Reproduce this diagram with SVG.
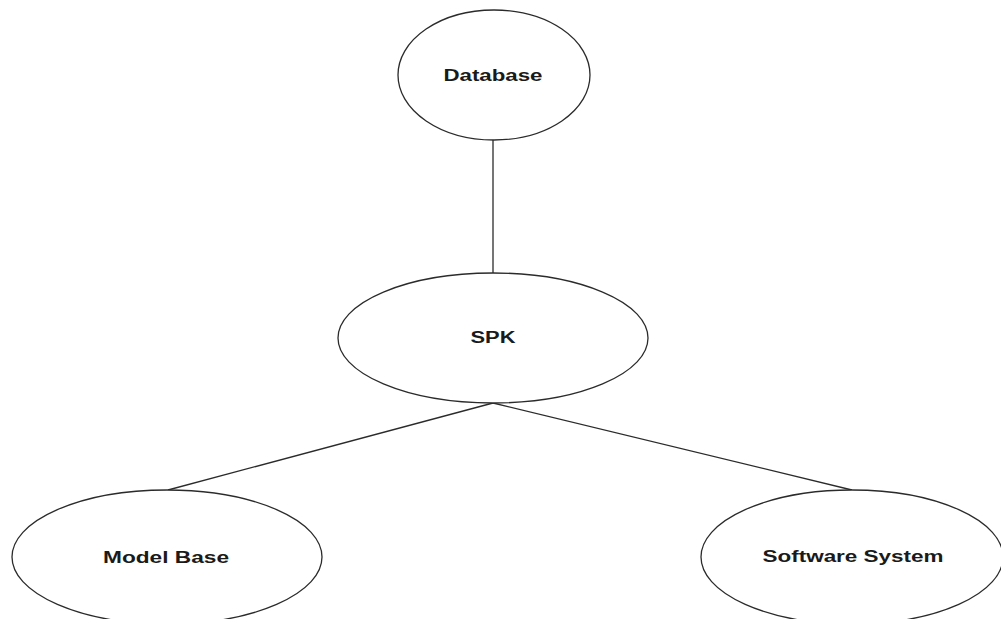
<svg xmlns="http://www.w3.org/2000/svg" width="1001" height="619" viewBox="0 0 1001 619">
  <style>
    .node ellipse { fill: #ffffff; stroke: #2b2b2b; stroke-width: 1.3; }
    .node text { font-family: "Liberation Sans", Arial, sans-serif; font-weight: bold; font-size: 16px; fill: #1a1a1a; text-anchor: middle; }
    #connectors line { stroke: #2b2b2b; stroke-width: 1.3; }
  </style>
  <rect width="1001" height="619" fill="#ffffff"/>
  <g id="connectors">
    <line x1="493" y1="139" x2="493" y2="273"/>
    <line x1="493" y1="403" x2="168" y2="490"/>
    <line x1="493" y1="403" x2="852" y2="490"/>
  </g>
  <g id="node-database" class="node">
    <ellipse cx="494" cy="75" rx="96" ry="65"/>
    <text x="493" y="81" textLength="99" lengthAdjust="spacingAndGlyphs">Database</text>
  </g>
  <g id="node-spk" class="node">
    <ellipse cx="493" cy="338" rx="155" ry="65"/>
    <text x="493" y="343" textLength="45" lengthAdjust="spacingAndGlyphs">SPK</text>
  </g>
  <g id="node-model-base" class="node">
    <ellipse cx="167" cy="557" rx="155" ry="67"/>
    <text x="166" y="563" textLength="126" lengthAdjust="spacingAndGlyphs">Model Base</text>
  </g>
  <g id="node-software-system" class="node">
    <ellipse cx="852" cy="557" rx="151" ry="67"/>
    <text x="853" y="562" textLength="181" lengthAdjust="spacingAndGlyphs">Software System</text>
  </g>
</svg>
